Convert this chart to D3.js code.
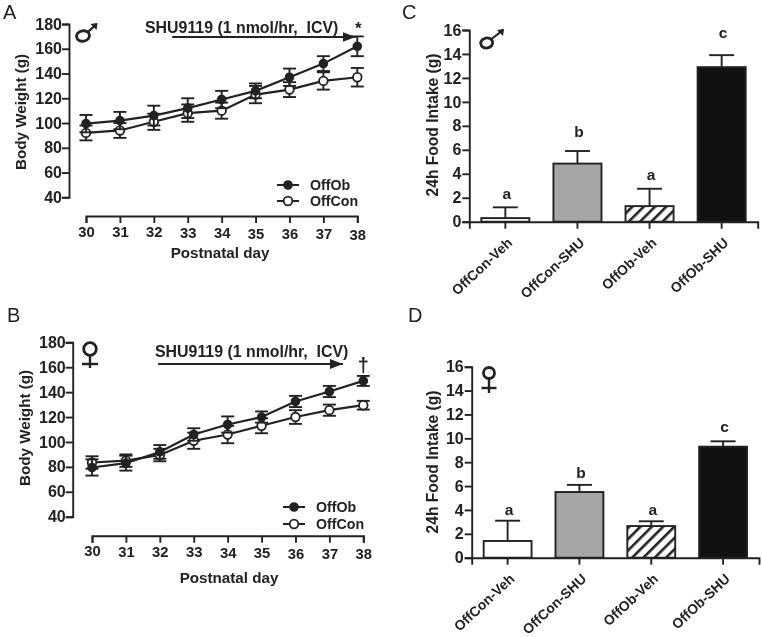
<!DOCTYPE html>
<html><head><meta charset="utf-8">
<script src="https://cdn.jsdelivr.net/npm/d3@7"></script>
<style>
html,body{margin:0;padding:0;background:#fff}
svg{display:block;filter:blur(0.35px)}
text{font-family:"Liberation Sans",Arial,sans-serif;fill:#222}
.b{font-weight:bold}
</style></head><body>
<svg id="c" width="762" height="637"></svg>
<script>
const days=[30,31,32,33,34,35,36,37,38];
const weightTicks=[40,60,80,100,120,140,160,180];
const intakeTicks=[0,2,4,6,8,10,12,14,16];
const groups=["OffCon-Veh","OffCon-SHU","OffOb-Veh","OffOb-SHU"];

const aOffOb=[99.5,102,106,112,119,126,137,148,162];
const aOffObErr=[7,7,8,8,7,6,7,6,8];
const aOffCon=[92,94,101,108,110,123,127,134,137];
const aOffConErr=[6,6,6.5,7,6.5,7,6,7,7.5];
const bOffOb=[79.5,83,92,106,114,120,132.5,140.5,149];
const bOffObErr=[6.5,6,5.5,5,6.5,4.5,4.5,4.5,4];
const bOffCon=[83.5,85,89.5,101,106,113,120,125.5,129.5];
const bOffConErr=[5,5,5,6.5,7,6,5.5,4.5,3.5];

const cIntake=[0.3,4.85,1.3,12.9];
const cErr=[0.9,1.05,1.45,1.0];
const cLetters=["a","b","a","c"];
const cLetterAt=[1.9,7.05,3.5,15.3];
const dIntake=[1.4,5.5,2.65,9.3];
const dErr=[1.7,0.6,0.4,0.45];
const dLetters=["a","b","a","c"];
const dLetterAt=[3.6,6.7,3.6,10.5];

const ink="#222";
const svg=d3.select("#c");
const defs=svg.append("defs");
const pat=defs.append("pattern").attr("id","hatch").attr("patternUnits","userSpaceOnUse")
  .attr("width",8).attr("height",8).attr("patternTransform","rotate(45)");
pat.append("rect").attr("width",8).attr("height",8).attr("fill","#fff");
pat.append("rect").attr("width",2.6).attr("height",8).attr("fill",ink);
const mk=defs.append("marker").attr("id","ah").attr("markerUnits","userSpaceOnUse")
  .attr("markerWidth",14).attr("markerHeight",12).attr("refX",13).attr("refY",5).attr("orient","auto");
mk.append("path").attr("d","M0,0L13,5L0,10Z").attr("fill",ink);

function letter(t,x,y){svg.append("text").attr("x",x).attr("y",y).attr("font-size",20).text(t);}
function styleAxis(g,fs){
  g.selectAll("path,line").attr("stroke",ink).attr("stroke-width",1.9);
  g.selectAll("text").attr("class","b").attr("font-size",fs).attr("fill",ink).attr("font-family",null);
}
function male(cx,cy,rx,ry,ex,ey){
  const g=svg.append("g");
  g.append("ellipse").attr("cx",cx).attr("cy",cy).attr("rx",rx).attr("ry",ry)
    .attr("transform",`rotate(-10 ${cx} ${cy})`).attr("fill","none").attr("stroke",ink).attr("stroke-width",2.8);
  g.append("line").attr("x1",cx+rx*0.7).attr("y1",cy-ry*0.7).attr("x2",ex).attr("y2",ey).attr("stroke",ink).attr("stroke-width",2.2);
  g.append("path").attr("d",`M${ex+1},${ey-1}L${ex-6},${ey}L${ex},${ey+6}Z`).attr("fill",ink);
}
function female(cx,cy,r,yEnd,yBar,hw){
  const g=svg.append("g");
  g.append("circle").attr("cx",cx).attr("cy",cy).attr("r",r).attr("fill","none").attr("stroke",ink).attr("stroke-width",2.8);
  g.append("line").attr("x1",cx).attr("x2",cx).attr("y1",cy+r).attr("y2",yEnd).attr("stroke",ink).attr("stroke-width",2.4);
  g.append("line").attr("x1",cx-hw).attr("x2",cx+hw).attr("y1",yBar).attr("y2",yBar).attr("stroke",ink).attr("stroke-width",2.4);
}

function linePanel(o){
  const x=d3.scaleLinear().domain([30,38]).range(o.xr);
  const y=d3.scaleLinear().domain([40,180]).range(o.yr);
  const ax=svg.append("g").attr("transform",`translate(${o.yAxisX},0)`)
    .call(d3.axisLeft(y).tickValues(weightTicks).tickSize(7).tickPadding(0));
  styleAxis(ax,16);
  const bx=svg.append("g").attr("transform",`translate(0,${o.xAxisY})`)
    .call(d3.axisBottom(x).tickValues(days).tickFormat(d3.format("d")).tickSizeOuter(0).tickSize(7).tickPadding(3));
  styleAxis(bx,14.8);
  bx.selectAll(".tick text").attr("dy",(d,i)=>(0.71*14.8+i*0.4)+"px");

  const series=[
    {v:o.con,e:o.conE,fill:"#fff"},
    {v:o.ob,e:o.obE,fill:ink}
  ];
  const line=d3.line().x((d,i)=>x(days[i])).y(d=>y(d));
  series.forEach(s=>{
    const eg=svg.append("g").attr("stroke",ink).attr("stroke-width",1.9);
    days.forEach((d,i)=>{
      eg.append("line").attr("x1",x(d)).attr("x2",x(d)).attr("y1",y(s.v[i]-s.e[i])).attr("y2",y(s.v[i]+s.e[i]));
      [1,-1].forEach(k=>eg.append("line").attr("x1",x(d)-6.5).attr("x2",x(d)+6.5)
        .attr("y1",y(s.v[i]+k*s.e[i])).attr("y2",y(s.v[i]+k*s.e[i])));
    });
    svg.append("path").datum(s.v).attr("d",line).attr("fill","none").attr("stroke",ink).attr("stroke-width",2.2);
    svg.append("g").selectAll("circle").data(s.v).join("circle")
      .attr("cx",(d,i)=>x(days[i])).attr("cy",d=>y(d)).attr("r",s.fill==="#fff"?4.3:3.9)
      .attr("fill",s.fill).attr("stroke",ink).attr("stroke-width",1.8);
  });

  svg.append("text").attr("class","b").attr("font-size",15.2)
    .attr("transform",`translate(${o.ytx},${o.yty}) rotate(-90)`).attr("text-anchor","middle").text("Body Weight (g)");
  svg.append("text").attr("class","b").attr("font-size",15.2)
    .attr("x",o.xtx).attr("y",o.xty).attr("text-anchor","middle").text("Postnatal day");

  svg.append("line").attr("x1",x(o.arrow[0])).attr("x2",x(o.arrow[1]))
    .attr("y1",y(o.arrow[2])).attr("y2",y(o.arrow[2])).attr("stroke",ink).attr("stroke-width",1.9).attr("marker-end","url(#ah)");
  svg.append("text").attr("class","b").attr("font-size",15.9).attr("x",o.sx).attr("y",o.sy)
    .attr("xml:space","preserve").style("white-space","pre").text("SHU9119 (1 nmol/hr,  ICV)");
  svg.append("text").attr("class","b").attr("font-size",o.markFs).attr("x",x(38)+o.markDx).attr("y",o.markY)
    .attr("text-anchor","middle").text(o.mark);

  [["OffOb",ink,o.ly[0]],["OffCon","#fff",o.ly[1]]].forEach(([t,f,ly])=>{
    svg.append("line").attr("x1",o.lx).attr("x2",o.lx+22).attr("y1",ly).attr("y2",ly).attr("stroke",ink).attr("stroke-width",2);
    svg.append("circle").attr("cx",o.lx+11).attr("cy",ly).attr("r",f==="#fff"?4.3:3.9).attr("fill",f).attr("stroke",ink).attr("stroke-width",1.8);
    svg.append("text").attr("class","b").attr("font-size",14.2).attr("x",o.lx+33).attr("y",ly+5).text(t);
  });
}

function barPanel(o){
  const x=d3.scaleBand().domain(groups).range(o.xr).paddingInner(1/3).paddingOuter(1/6);
  const y=d3.scaleLinear().domain([0,16]).range(o.yr);
  const fills=["#fff","#a6a6a6","url(#hatch)","#111"];
  svg.append("g").selectAll("rect").data(o.v).join("rect")
    .attr("x",(d,i)=>x(groups[i])).attr("width",x.bandwidth())
    .attr("y",d=>y(d)).attr("height",d=>y(0)-y(d))
    .attr("fill",(d,i)=>fills[i]).attr("stroke",ink).attr("stroke-width",1.9);
  const eg=svg.append("g").attr("stroke",ink).attr("stroke-width",1.9);
  o.v.forEach((d,i)=>{
    const c=x(groups[i])+x.bandwidth()/2;
    eg.append("line").attr("x1",c).attr("x2",c).attr("y1",y(d)).attr("y2",y(d+o.e[i]));
    eg.append("line").attr("x1",c-12.5).attr("x2",c+12.5).attr("y1",y(d+o.e[i])).attr("y2",y(d+o.e[i]));
  });
  const ay=svg.append("g").attr("transform",`translate(${o.xr[0]},0)`)
    .call(d3.axisLeft(y).tickValues(intakeTicks).tickSize(7).tickPadding(1));
  styleAxis(ay,16);
  const ax=svg.append("g").attr("transform",`translate(0,${y(0)})`)
    .call(d3.axisBottom(x).tickSizeOuter(0).tickSize(7).tickPadding(3));
  styleAxis(ax,13.9);
  ax.selectAll(".tick text").attr("text-anchor","end").attr("dy",null)
    .attr("transform","translate(1,15) rotate(-43)");
  svg.append("text").attr("font-size",15.6).attr("font-weight",600)
    .attr("transform",`translate(${o.ytx},${o.yty}) rotate(-90)`).attr("text-anchor","middle").text("24h Food Intake (g)");
  svg.append("g").selectAll("text").data(o.letters).join("text").attr("class","b").attr("font-size",15.5)
    .attr("text-anchor","middle")
    .attr("x",(d,i)=>x(groups[i])+x.bandwidth()/2+1.5).attr("y",(d,i)=>y(o.at[i])).text(d=>d);
}

letter("A",3,19);letter("B",7,322);letter("C",402,19);letter("D",408,322);

linePanel({xr:[86,357.3],yr:[197.3,24],yAxisX:69,xAxisY:216,ob:aOffOb,obE:aOffObErr,con:aOffCon,conE:aOffConErr,
  ytx:26,yty:112,xtx:220,xty:258,arrow:[32.54,37.95,169.5],sx:145,sy:33,mark:"*",markFs:17,markDx:1,markY:34,lx:277,ly:[185,201]});
linePanel({xr:[92,363.3],yr:[516.7,342.3],yAxisX:72.7,xAxisY:535.7,ob:bOffOb,obE:bOffObErr,con:bOffCon,conE:bOffConErr,
  ytx:30,yty:428,xtx:229,xty:583,arrow:[31.95,37.4,162.6],sx:155,sy:357,mark:"†",markFs:20,markDx:0,markY:372,lx:283,ly:[507,524]});
male(83,36,6.5,5.2,96.5,24);
female(90,349,6.3,368,364,8);
barPanel({xr:[469.3,757.7],yr:[221.7,30],v:cIntake,e:cErr,letters:cLetters,at:cLetterAt,ytx:438,yty:125});
barPanel({xr:[471.7,759],yr:[557.7,366.7],v:dIntake,e:dErr,letters:dLetters,at:dLetterAt,ytx:438,yty:462});
male(486.7,43,6,5,503,30);
female(489,373,5.5,393,388,7.5);
</script></body></html>
